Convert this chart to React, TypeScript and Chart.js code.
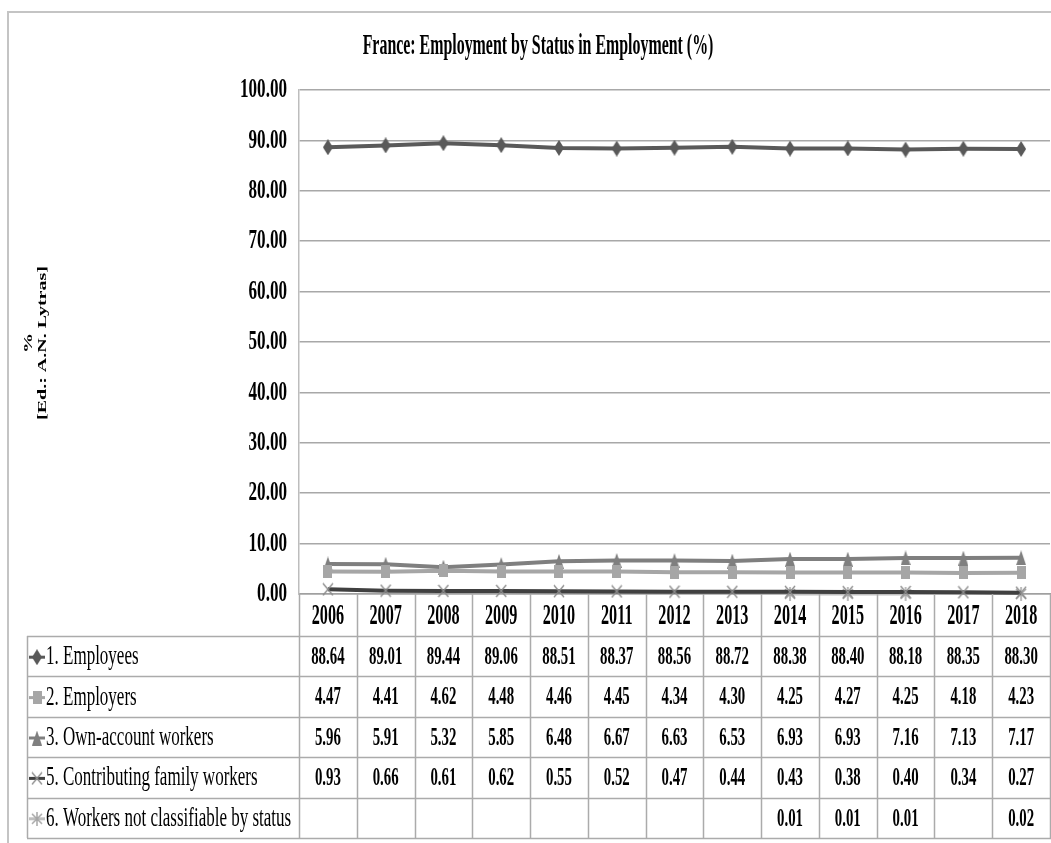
import { useEffect, useRef } from 'react';
import { Chart, registerables } from 'chart.js';

Chart.register(...registerables);

const TITLE = 'France: Employment by Status in Employment (%)';
const Y_TITLE_LINES = ['%', '[Ed.: A.N. Lytras]'];
const YEARS = ['2006', '2007', '2008', '2009', '2010', '2011', '2012', '2013', '2014', '2015', '2016', '2017', '2018'];
const SERIES_NAMES = [
  '1. Employees',
  '2. Employers',
  '3. Own-account workers',
  '5. Contributing family workers',
  '6. Workers not classifiable by status',
];
const EMPLOYEES = [88.64, 89.01, 89.44, 89.06, 88.51, 88.37, 88.56, 88.72, 88.38, 88.4, 88.18, 88.35, 88.3];
const EMPLOYERS = [4.47, 4.41, 4.62, 4.48, 4.46, 4.45, 4.34, 4.3, 4.25, 4.27, 4.25, 4.18, 4.23];
const OWN_ACCOUNT = [5.96, 5.91, 5.32, 5.85, 6.48, 6.67, 6.63, 6.53, 6.93, 6.93, 7.16, 7.13, 7.17];
const CONTRIBUTING = [0.93, 0.66, 0.61, 0.62, 0.55, 0.52, 0.47, 0.44, 0.43, 0.38, 0.4, 0.34, 0.27];
const NOT_CLASSIFIABLE: (number | null)[] = [null, null, null, null, null, null, null, null, 0.01, 0.01, 0.01, null, 0.02];

const SERIES_VALUES = [EMPLOYEES, EMPLOYERS, OWN_ACCOUNT, CONTRIBUTING, NOT_CLASSIFIABLE];
const LINE_COLORS = ['#595959', '#a6a6a6', '#7f7f7f', '#404040', '#bfbfbf'];

const FONT = "'Liberation Serif', 'Times New Roman', serif";

function makeMarker(kind: string): HTMLCanvasElement {
  const c = document.createElement('canvas');
  const ctx = c.getContext('2d')!;
  if (kind === 'diamond') {
    c.width = 10; c.height = 16;
    ctx.fillStyle = '#595959';
    ctx.beginPath();
    ctx.moveTo(5, 0); ctx.lineTo(10, 8); ctx.lineTo(5, 16); ctx.lineTo(0, 8); ctx.closePath();
    ctx.fill();
  } else if (kind === 'square') {
    c.width = 9; c.height = 13;
    ctx.fillStyle = '#a6a6a6';
    ctx.fillRect(0, 0, 9, 13);
  } else if (kind === 'triangle') {
    c.width = 10; c.height = 15;
    ctx.fillStyle = '#7f7f7f';
    ctx.beginPath();
    ctx.moveTo(5, 0); ctx.lineTo(10, 15); ctx.lineTo(0, 15); ctx.closePath();
    ctx.fill();
  } else if (kind === 'cross') {
    c.width = 12; c.height = 14;
    ctx.strokeStyle = '#8c8c8c';
    ctx.lineWidth = 1.3;
    ctx.beginPath();
    ctx.moveTo(1, 1); ctx.lineTo(11, 13); ctx.moveTo(11, 1); ctx.lineTo(1, 13);
    ctx.stroke();
  } else {
    c.width = 12; c.height = 14;
    ctx.strokeStyle = '#a6a6a6';
    ctx.lineWidth = 1.5;
    ctx.beginPath();
    ctx.moveTo(1, 2); ctx.lineTo(11, 12); ctx.moveTo(11, 2); ctx.lineTo(1, 12);
    ctx.moveTo(6, 0); ctx.lineTo(6, 14);
    ctx.stroke();
  }
  return c;
}

function condensedText(
  ctx: CanvasRenderingContext2D,
  s: string,
  x: number,
  y: number,
  size: number,
  bold: boolean,
  align: CanvasTextAlign,
  sx: number,
) {
  ctx.save();
  ctx.translate(x, y);
  ctx.scale(sx, 1);
  ctx.font = `${bold ? 'bold ' : ''}${size}px ${FONT}`;
  ctx.fillStyle = '#000';
  ctx.textAlign = align;
  ctx.textBaseline = 'middle';
  ctx.fillText(s, 0, 0);
  ctx.restore();
}

export default function App() {
  const ref = useRef<HTMLCanvasElement | null>(null);

  useEffect(() => {
    if (!ref.current) return;
    const markers = ['diamond', 'square', 'triangle', 'cross', 'star'].map(makeMarker);

    const tablePlugin = {
      id: 'tablePlugin',
      afterDraw(chart: any) {
        const ctx: CanvasRenderingContext2D = chart.ctx;
        const xs = chart.scales.x;
        const ys = chart.scales.y;
        const ca = chart.chartArea;
        const colW = xs.getPixelForValue(1) - xs.getPixelForValue(0);
        const headerBottom = ca.bottom + 42;
        const rowH = 40.4;
        const tableLeft = 27;
        const tableBottom = headerBottom + rowH * SERIES_NAMES.length;
        const right = chart.width + 10;

        ctx.save();
        // outer border
        ctx.strokeStyle = '#c4c4c4';
        ctx.lineWidth = 2;
        ctx.strokeRect(8, 12, chart.width + 20, 900);

        // title
        condensedText(ctx, TITLE, 538, 46, 30, true, 'center', 0.53);

        // y axis title (rotated)
        const yTitleX = [29, 43];
        Y_TITLE_LINES.forEach((line, i) => {
          ctx.save();
          ctx.translate(yTitleX[i], 343);
          ctx.rotate(-Math.PI / 2);
          ctx.scale(1, 0.66);
          ctx.font = `bold 20px ${FONT}`;
          ctx.fillStyle = '#000';
          ctx.textAlign = 'center';
          ctx.textBaseline = 'middle';
          ctx.fillText(line, 0, 0);
          ctx.restore();
        });

        // y tick labels
        ys.ticks.forEach((t: any) => {
          const py = ys.getPixelForValue(t.value);
          condensedText(ctx, Number(t.value).toFixed(2), 287, py, 28, true, 'right', 0.61);
        });

        // table lines
        ctx.strokeStyle = '#ababab';
        ctx.lineWidth = 1.5;
        ctx.beginPath();
        for (let i = 0; i <= YEARS.length; i++) {
          const px = Math.round(ca.left + colW * i) + 0.5;
          ctx.moveTo(px, ca.bottom);
          ctx.lineTo(px, tableBottom);
        }
        for (let r = 0; r <= SERIES_NAMES.length; r++) {
          const py = Math.round(headerBottom + rowH * r) + 0.5;
          ctx.moveTo(tableLeft, py);
          ctx.lineTo(right, py);
        }
        ctx.moveTo(tableLeft + 0.5, headerBottom);
        ctx.lineTo(tableLeft + 0.5, tableBottom);
        ctx.stroke();

        // year labels
        YEARS.forEach((yr, i) => {
          condensedText(ctx, yr, xs.getPixelForValue(i), (ca.bottom + headerBottom) / 2 + 1, 30, true, 'center', 0.54);
        });

        // rows
        SERIES_NAMES.forEach((name, r) => {
          const cy = headerBottom + rowH * (r + 0.5) + 1;
          ctx.save();
          ctx.strokeStyle = LINE_COLORS[r];
          ctx.lineWidth = 3;
          ctx.beginPath();
          ctx.moveTo(29, cy);
          ctx.lineTo(45, cy);
          ctx.stroke();
          const m = markers[r];
          ctx.drawImage(m, 37 - m.width / 2, cy - m.height / 2);
          ctx.restore();
          condensedText(ctx, name, 46, cy, 27, false, 'left', 0.63);
          SERIES_VALUES[r].forEach((v, i) => {
            if (v === null || v === undefined) return;
            condensedText(ctx, v.toFixed(2), xs.getPixelForValue(i), cy, 26, true, 'center', 0.57);
          });
        });
        ctx.restore();
      },
    };

    const chart = new Chart(ref.current, {
      type: 'line',
      data: {
        labels: YEARS,
        datasets: SERIES_NAMES.map((name, i) => ({
          label: name,
          data: SERIES_VALUES[i] as any,
          borderColor: LINE_COLORS[i],
          backgroundColor: LINE_COLORS[i],
          borderWidth: i === 4 ? 3 : 4,
          pointStyle: markers[i] as any,
          pointRadius: 6,
          pointHoverRadius: 6,
          tension: 0,
          spanGaps: false,
          clip: false as any,
        })),
      },
      options: {
        responsive: false,
        animation: false,
        events: [],
        layout: { padding: { left: 299, top: 90, right: 7, bottom: 249 } },
        plugins: {
          legend: { display: false },
          title: { display: false },
          tooltip: { enabled: false },
        },
        scales: {
          x: {
            type: 'category',
            offset: true,
            grid: { display: false, drawTicks: false },
            border: { display: true, color: '#a0a0a0', width: 1.5 },
            ticks: { display: false },
          },
          y: {
            min: 0,
            max: 100,
            ticks: { display: false, stepSize: 10 },
            grid: { color: '#a8a8a8', lineWidth: 1.5, drawTicks: false },
            border: { display: true, color: '#bdbdbd', width: 1.5 },
          },
        },
      },
      plugins: [tablePlugin],
    });
    return () => chart.destroy();
  }, []);

  return (
    <div style={{ position: 'absolute', left: 0, top: 0, width: 1051, height: 843, overflow: 'hidden', background: '#fff' }}>
      <canvas ref={ref} width={1060} height={843} style={{ display: 'block' }} />
    </div>
  );
}
